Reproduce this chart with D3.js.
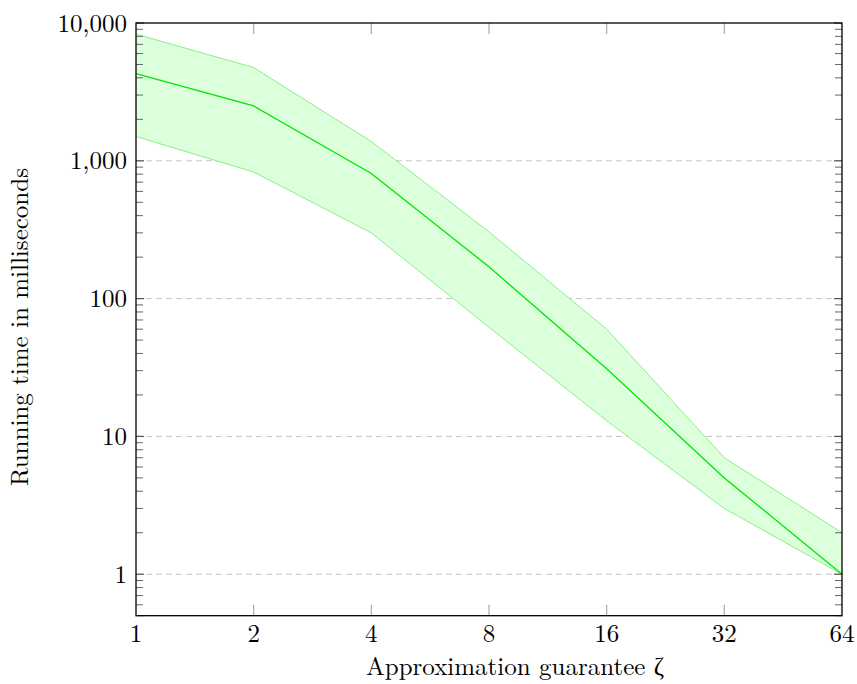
<!DOCTYPE html>
<html><head><meta charset="utf-8">
<script src="https://cdn.jsdelivr.net/npm/d3@7"></script>
<style>body{margin:0;background:#fff}svg{display:block}text{font-family:"Latin Modern Roman","CMU Serif","Liberation Serif","DejaVu Serif",serif;fill:#000}</style>
</head><body><svg id="c" width="857" height="684"></svg>
<script>
const xVals = [1, 2, 4, 8, 16, 32, 64];
const meanVals = [4300, 2500, 810, 170, 31, 5, 1];
const upperVals = [8300, 4750, 1380, 305, 60, 7, 2];
const lowerVals = [1500, 830, 300, 62, 13, 3, 1];
const xTicks = [1, 2, 4, 8, 16, 32, 64];
const yTicks = [1, 10, 100, 1000, 10000];
const xLabel = "Approximation guarantee ζ";
const yLabel = "Running time in milliseconds";

const svg = d3.select("#c");
const L = 136, R = 842, T = 23, B = 615.7;
const x = d3.scaleLog().base(2).domain([1, 64]).range([L, R]);
const y = d3.scaleLog().domain([0.5, 10000]).range([B, T]);

// grid
const g = svg.append("g");
g.selectAll("line.grid").data(yTicks.filter(d => d < 10000)).join("line")
  .attr("x1", L).attr("x2", R).attr("y1", d => y(d)).attr("y2", d => y(d))
  .attr("stroke", "#c4c4c4").attr("stroke-width", 1).attr("stroke-dasharray", "6,4");

// band
const data = xVals.map((v, i) => ({x: v, m: meanVals[i], u: upperVals[i], l: lowerVals[i]}));
svg.append("path").datum(data)
  .attr("d", d3.area().x(d => x(d.x)).y0(d => y(d.l)).y1(d => y(d.u)))
  .attr("fill", "rgb(220,255,220)").attr("stroke", "none");
svg.append("path").datum(data)
  .attr("d", d3.line().x(d => x(d.x)).y(d => y(d.u)))
  .attr("fill", "none").attr("stroke", "#88f088").attr("stroke-width", 1);
svg.append("path").datum(data)
  .attr("d", d3.line().x(d => x(d.x)).y(d => y(d.l)))
  .attr("fill", "none").attr("stroke", "#88f088").attr("stroke-width", 1);
svg.append("path").datum(data)
  .attr("d", d3.line().x(d => x(d.x)).y(d => y(d.m)))
  .attr("fill", "none").attr("stroke", "#00e600").attr("stroke-width", 1.3);

// minor y ticks
const minor = [];
for (let e = -1; e <= 3; e++) for (let k = 2; k <= 9; k++) {
  const v = k * Math.pow(10, e);
  if (v >= 0.5 && v < 10000) minor.push(v);
}
const tk = svg.append("g");
tk.selectAll("line.ml").data(minor).join("line")
  .attr("x1", L).attr("x2", L + 7).attr("y1", d => y(d)).attr("y2", d => y(d))
  .attr("stroke", "#666").attr("stroke-width", 1);
tk.selectAll("line.mr").data(minor).join("line")
  .attr("x1", R - 7).attr("x2", R).attr("y1", d => y(d)).attr("y2", d => y(d))
  .attr("stroke", "#666").attr("stroke-width", 1);
tk.selectAll("line.Ml").data(yTicks).join("line")
  .attr("x1", L).attr("x2", L + 8).attr("y1", d => y(d)).attr("y2", d => y(d))
  .attr("stroke", "#555").attr("stroke-width", 1.2);
tk.selectAll("line.Mr").data(yTicks).join("line")
  .attr("x1", R - 8).attr("x2", R).attr("y1", d => y(d)).attr("y2", d => y(d))
  .attr("stroke", "#555").attr("stroke-width", 1.2);
// x ticks
tk.selectAll("line.xb").data(xTicks.slice(1, -1)).join("line")
  .attr("x1", d => x(d)).attr("x2", d => x(d)).attr("y1", B).attr("y2", B - 11)
  .attr("stroke", "#aaa").attr("stroke-width", 1.2);
tk.selectAll("line.xt").data(xTicks.slice(1, -1)).join("line")
  .attr("x1", d => x(d)).attr("x2", d => x(d)).attr("y1", T).attr("y2", T + 11)
  .attr("stroke", "#aaa").attr("stroke-width", 1.2);

// frame
svg.append("rect").attr("x", L).attr("y", T).attr("width", R - L).attr("height", B - T)
  .attr("fill", "none").attr("stroke", "#000").attr("stroke-width", 1.3);

// labels
const fmt = d3.format(",");
svg.append("g").selectAll("text").data(yTicks).join("text")
  .attr("x", L - 9).attr("y", d => y(d)).attr("dy", "0.34em")
  .attr("text-anchor", "end").attr("font-size", 25).text(d => fmt(d));
svg.append("g").selectAll("text").data(xTicks).join("text")
  .attr("x", d => x(d)).attr("y", 642)
  .attr("text-anchor", "middle").attr("font-size", 25).text(d => d);
svg.append("text").attr("x", 515).attr("y", 675)
  .attr("text-anchor", "middle").attr("font-size", 25).text(xLabel);
svg.append("text").attr("transform", `translate(28,327) rotate(-90)`)
  .attr("text-anchor", "middle").attr("font-size", 25).text(yLabel);
</script></body></html>
